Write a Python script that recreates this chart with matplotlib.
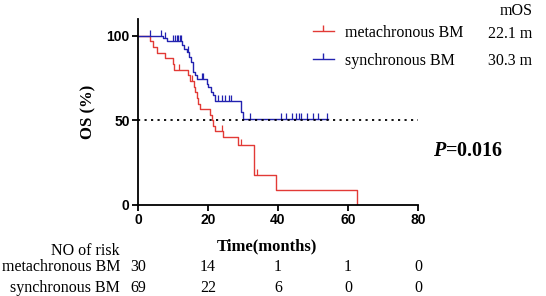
import matplotlib.pyplot as plt
from matplotlib.lines import Line2D
from matplotlib.transforms import blended_transform_factory

# survival curves (time in months, OS in %)
meta_t = [0, 3.3, 4.4, 5.3, 7.7, 10.0, 10.2, 14.4, 14.9, 15.9, 16.3, 16.8, 17.2, 17.7,
          20.6, 21.0, 21.5, 22.0, 24.2, 28.7, 33.0, 39.5, 62.7]
meta_s = [100, 96.7, 93.3, 90.0, 86.7, 83.3, 80.0, 76.7, 73.3, 70.0, 66.7, 63.3, 60.0, 56.7,
          53.3, 50.0, 46.9, 43.5, 40.0, 35.5, 17.8, 8.9, 0]
meta_cens_t = [11.8, 15.4, 23.9, 29.3, 34.1]
meta_cens_s = [80.0, 73.3, 43.5, 35.5, 17.8]

syn_t = [0, 7.2, 8.2, 12.5, 13.0, 13.9, 14.7, 15.2, 15.6, 15.8, 16.3, 16.8, 19.6, 20.1,
         20.8, 21.3, 22.0, 29.3, 30.1, 54.4]
syn_s = [100, 98.5, 97.0, 94.5, 92.5, 90.5, 87.6, 84.6, 81.7, 78.7, 76.7, 74.4, 71.8, 69.5,
         66.9, 65.0, 61.8, 55.2, 50.6, 50.6]
syn_cens_t = [3.4, 6.6, 7.8, 10.1, 10.6, 11.0, 11.5, 12.0, 12.3, 14.2, 18.2, 18.7,
              22.9, 23.9, 24.9, 26.1, 26.5, 32.0, 40.9, 42.3, 43.9, 45.1, 46.1, 46.5,
              48.2, 50.1, 51.5, 53.9]
syn_cens_s = [100, 100, 98.5, 97.0, 97.0, 97.0, 97.0, 97.0, 97.0, 90.5, 74.4, 74.4,
              61.8, 61.8, 61.8, 61.8, 61.8, 50.6, 50.6, 50.6, 50.6, 50.6, 50.6, 50.6,
              50.6, 50.6, 50.6, 50.6]

groups = ["metachronous BM", "synchronous BM"]
mos = ["22.1 m", "30.3 m"]
p_text = "0.016"

risk_times = [0, 20, 40, 60, 80]
risk_meta = [30, 14, 1, 1, 0]
risk_syn = [69, 22, 6, 0, 0]

red = '#e23a36'
blue = '#2222b0'
serif = 'Liberation Serif'
sans = 'Liberation Sans'

plt.rcParams['mathtext.fontset'] = 'custom'
plt.rcParams['mathtext.it'] = 'Liberation Serif:italic:bold'

fig = plt.figure(figsize=(5.46, 2.96), dpi=100)
ax = fig.add_axes([138/546, 1-205/296, 280/546, 186/296])

ax.step(meta_t, meta_s, where='post', color=red, lw=1.0)
ax.step(syn_t, syn_s, where='post', color=blue, lw=1.0)
# censor marks, drawn as small up-ticks like Prism
ax.plot(meta_cens_t, meta_cens_s, ls='none', marker=2, ms=4, mew=0.9, color=red)
ax.plot(syn_cens_t, syn_cens_s, ls='none', marker=2, ms=4, mew=0.9, color=blue)
ax.plot([0, 80], [50, 50], color='black', ls=(0, (1.2, 2.4)), lw=1.3)

ax.set_xlim(0, 80)
ax.set_ylim(0, 110)
ax.set_xticks(risk_times)
ax.set_yticks([0, 50, 100])
for s in ['top', 'right']:
    ax.spines[s].set_visible(False)
for s in ['left', 'bottom']:
    ax.spines[s].set_linewidth(1.3)
ax.tick_params(width=1.3, length=4, pad=2)
for lab in ax.get_xticklabels() + ax.get_yticklabels():
    lab.set_fontfamily(sans)
    lab.set_fontweight('bold')
    lab.set_fontsize(10)

ax.set_ylabel('OS (%)', fontfamily=serif, fontweight='bold', fontsize=12, labelpad=7)
fig.text(267/546, 1-246/296, 'Time(months)', fontfamily=serif, fontweight='bold',
         fontsize=12, ha='center', va='center')

# legend
handles = [Line2D([], [], color=red, lw=1.0, marker=2, ms=4),
           Line2D([], [], color=blue, lw=1.0, marker=2, ms=4)]
fig.legend(handles, groups, loc='upper left', bbox_to_anchor=(313/546, 1-25/296),
           frameon=False, prop={'family': serif, 'size': 11.5}, handlelength=1.3,
           handletextpad=0.7, labelspacing=0.75, borderpad=0, borderaxespad=0,
           numpoints=1)
fig.text(500/546, 1-11/296, 'mOS', fontfamily=serif, fontsize=11.5, ha='left', va='center')
for i, v in enumerate(mos):
    fig.text(488/546, 1-(34 + 27*i)/296, v, fontfamily=serif, fontsize=11.5,
             ha='left', va='center')

fig.text(433/546, 1-151/296, r'$\it{P}$=' + p_text, fontfamily=serif, fontweight='bold',
         fontsize=14.5, ha='left', va='center')

# number at risk table
trans = blended_transform_factory(ax.transData, fig.transFigure)
fig.text(120/546, 1-251/296, 'NO of risk', fontfamily=serif, fontsize=11.5,
         ha='right', va='center')
for row, (name, vals) in enumerate(zip(groups, [risk_meta, risk_syn])):
    y = 1 - (267 + 21*row)/296
    fig.text(120/546, y, name, fontfamily=serif, fontsize=11.5, ha='right', va='center')
    for t, v in zip(risk_times, vals):
        ax.text(t, y, str(v), transform=trans, fontfamily=serif, fontsize=11.5,
                ha='center', va='center', clip_on=False)

fig.savefig('out.png', dpi=100)
